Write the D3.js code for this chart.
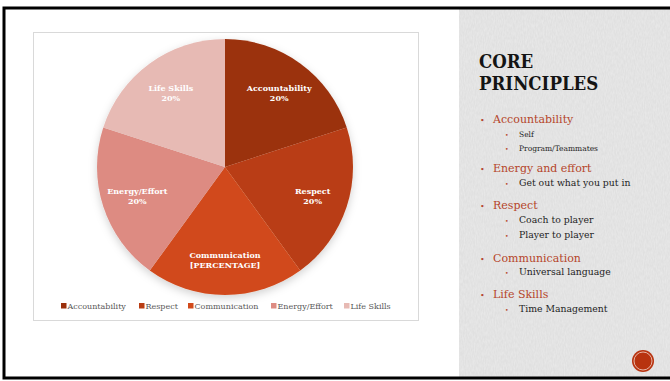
<!DOCTYPE html>
<html>
<head>
<meta charset="utf-8">
<script src="https://cdn.jsdelivr.net/npm/d3@7"></script>
<style>
  body { margin: 0; background: #fff; }
  svg { display: block; }
</style>
</head>
<body>
<div id="chart"></div>
<script>
// chart values
const categories = ["Accountability", "Respect", "Communication", "Energy/Effort", "Life Skills"];
const values = [20, 20, 20, 20, 20];
const valueLabels = ["20%", "20%", "[PERCENTAGE]", "20%", "20%"];

// right-hand text
const headings = ["Accountability", "Energy and effort", "Respect", "Communication", "Life Skills"];
const subItems = [
    ["Self", "Program/Teammates"],
    ["Get out what you put in"],
    ["Coach to player", "Player to player"],
    ["Universal language"],
    ["Time Management"]
];

const W = 670, H = 381;
const colors = ["#9b300c", "#b93d13", "#d14a1b", "#dd8b82", "#e7bab4"];
const serif = "'DejaVu Serif', serif";

const svg = d3.select("#chart").append("svg")
    .attr("width", W)
    .attr("height", H);

const defs = svg.append("defs");
const tex = defs.append("filter").attr("id", "tex")
    .attr("x", 0).attr("y", 0).attr("width", "100%").attr("height", "100%");
tex.append("feTurbulence")
    .attr("type", "fractalNoise")
    .attr("baseFrequency", "0.9 0.25")
    .attr("numOctaves", 2)
    .attr("seed", 3)
    .attr("result", "noise");
tex.append("feColorMatrix")
    .attr("type", "matrix")
    .attr("values", "0 0 0 0 1  0 0 0 0 1  0 0 0 0 1  0 0 0 0.45 -0.12");
const shadow = defs.append("filter").attr("id", "shadow")
    .attr("x", "-20%").attr("y", "-20%").attr("width", "140%").attr("height", "140%");
shadow.append("feDropShadow")
    .attr("dx", 0).attr("dy", 3).attr("stdDeviation", 4)
    .attr("flood-color", "#000").attr("flood-opacity", 0.18);

svg.append("rect").attr("x", 0).attr("y", 0).attr("width", W).attr("height", H).attr("fill", "#fff");

// textured panel
svg.append("rect").attr("x", 459).attr("y", 9).attr("width", W - 459).attr("height", 368)
    .attr("fill", "#e0e0e0");
svg.append("rect").attr("x", 459).attr("y", 9).attr("width", W - 459).attr("height", 368)
    .attr("fill", "#fff").attr("filter", "url(#tex)");

// slide frame
svg.append("path")
    .attr("d", `M${W},8 H4 V378 H${W}`)
    .attr("fill", "none")
    .attr("stroke", "#000")
    .attr("stroke-width", 3);

// chart box
svg.append("rect").attr("x", 33.5).attr("y", 32.5).attr("width", 385).attr("height", 288)
    .attr("fill", "#fff").attr("stroke", "#d9d9d9").attr("stroke-width", 1);

const cx = 225, cy = 167, R = 128;

const pie = d3.pie().sort(null).value(d => d)(values);
const arc = d3.arc().innerRadius(0).outerRadius(R);
const labelArc = d3.arc().innerRadius(R * 0.72).outerRadius(R * 0.72);

const g = svg.append("g").attr("transform", `translate(${cx},${cy})`);

g.append("g").attr("filter", "url(#shadow)")
    .selectAll("path")
    .data(pie)
    .join("path")
    .attr("d", arc)
    .attr("fill", (d, i) => colors[i]);

const lbl = g.selectAll("text.lbl")
    .data(pie)
    .join("text")
    .attr("class", "lbl")
    .attr("transform", d => `translate(${labelArc.centroid(d)})`)
    .attr("text-anchor", "middle")
    .attr("fill", "#fff")
    .attr("font-family", serif)
    .attr("font-weight", "bold")
    .attr("font-size", 8);
lbl.append("tspan").attr("x", 0).attr("dy", "-0.15em").text((d, i) => categories[i]);
lbl.append("tspan").attr("x", 0).attr("dy", "1.2em").text((d, i) => valueLabels[i]);

// legend
const legendX = [61, 139, 188, 271, 344];
const leg = svg.append("g").selectAll("g")
    .data(categories)
    .join("g")
    .attr("transform", (d, i) => `translate(${legendX[i]},309)`);
leg.append("rect").attr("x", 0).attr("y", -6).attr("width", 5.5).attr("height", 5.5)
    .attr("fill", (d, i) => colors[i]);
leg.append("text").attr("x", 6.5).attr("y", 0)
    .attr("font-family", serif).attr("font-size", 8).attr("fill", "#595959")
    .text(d => d);

// right-hand text
const tx = svg.append("g").attr("font-family", serif);
["CORE", "PRINCIPLES"].forEach((t, i) => {
    tx.append("text").attr("x", 479).attr("y", 68 + i * 22).attr("font-size", 18.5)
        .attr("font-weight", "bold").attr("font-stretch", "condensed")
        .attr("fill", "#141414").text(t);
});

const headY = [123, 172, 209, 262, 298];
const subY = [[137, 151], [186], [223, 238], [275], [312]];
const subSize = [7.5, 9.3, 9.3, 9.3, 9.3];
headings.forEach((h, i) => {
    tx.append("text").attr("x", 480).attr("y", headY[i]).attr("font-size", 8).attr("fill", "#b5452a").text("•");
    tx.append("text").attr("x", 493).attr("y", headY[i]).attr("font-size", 11).attr("fill", "#b5452a").text(h);
    subItems[i].forEach((s, j) => {
        tx.append("text").attr("x", 505).attr("y", subY[i][j]).attr("font-size", 6).attr("fill", "#b5452a").text("•");
        tx.append("text").attr("x", 519).attr("y", subY[i][j]).attr("font-size", subSize[i]).attr("fill", "#1e1e1e").text(s);
    });
});

// corner badge
svg.append("circle").attr("cx", 643).attr("cy", 361).attr("r", 11).attr("fill", "#b8330f");
svg.append("circle").attr("cx", 643).attr("cy", 361).attr("r", 9).attr("fill", "none")
    .attr("stroke", "#f3d6cc").attr("stroke-width", 0.8);
</script>
</body>
</html>
